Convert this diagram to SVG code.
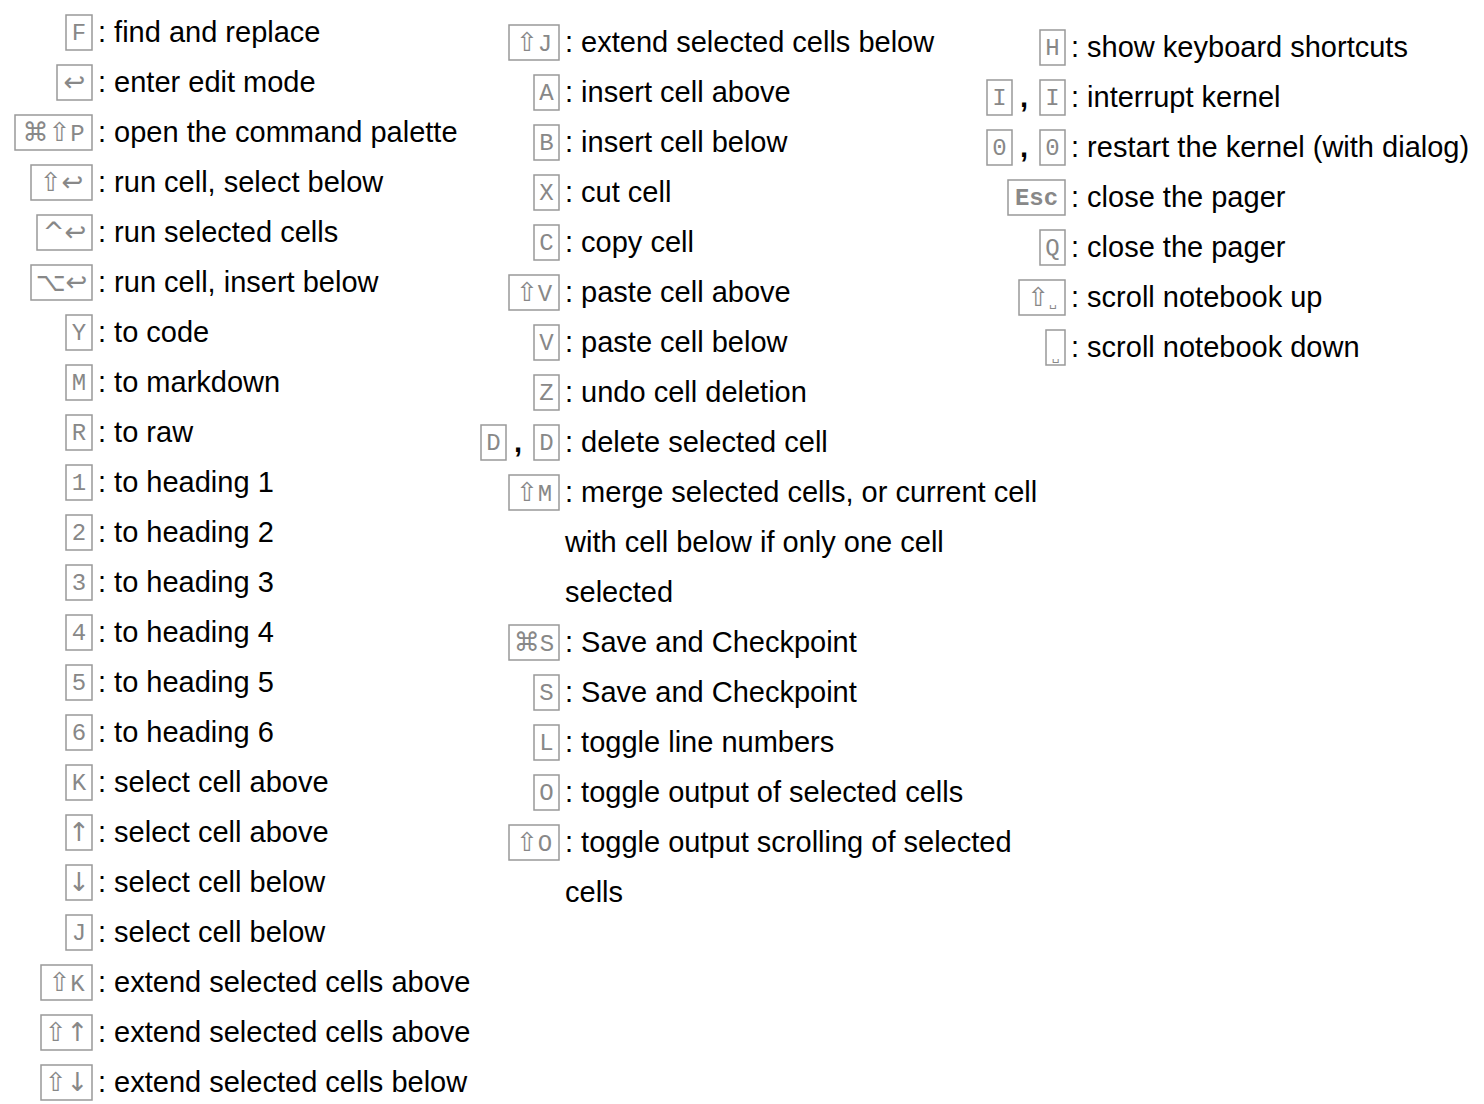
<svg xmlns="http://www.w3.org/2000/svg" width="1484" height="1104" viewBox="0 0 1484 1104">
<style>
.k{fill:#fff;stroke:#999;stroke-width:1.5}
.kt{font-family:"Liberation Mono","DejaVu Sans Mono",monospace;font-size:24px;fill:#888;text-anchor:middle}
.ks{font-family:"DejaVu Sans",sans-serif;font-size:26px;fill:#888;text-anchor:middle}
.m{font-family:"Liberation Mono","DejaVu Sans Mono",monospace;font-size:24px}
.t{font-family:"Liberation Sans",Arial,sans-serif;font-size:29px;fill:#000}
</style>
<rect width="1484" height="1104" fill="#fff"/>
<g id="col1">
<g id="r1"><rect class="k" x="66" y="15" width="26" height="35"/><text class="kt" x="79" y="40">F</text><text class="t" x="98" y="42">: find and replace</text></g>
<g id="r2"><rect class="k" x="57" y="65" width="35" height="35"/><text class="ks" x="74.5" y="91">↩</text><text class="t" x="98" y="92">: enter edit mode</text></g>
<g id="r3"><rect class="k" x="15" y="115" width="77" height="35"/><text class="ks" x="53.5" y="141">⌘⇧<tspan class="m">P</tspan></text><text class="t" x="98" y="142">: open the command palette</text></g>
<g id="r4"><rect class="k" x="31" y="165" width="61" height="35"/><text class="ks" x="61.5" y="191">⇧↩</text><text class="t" x="98" y="192">: run cell, select below</text></g>
<g id="r5"><rect class="k" x="37" y="215" width="55" height="35"/><text class="ks" x="64.5" y="241">^↩</text><text class="t" x="98" y="242">: run selected cells</text></g>
<g id="r6"><rect class="k" x="31" y="265" width="61" height="35"/><text class="ks" x="61.5" y="291">⌥↩</text><text class="t" x="98" y="292">: run cell, insert below</text></g>
<g id="r7"><rect class="k" x="66" y="315" width="26" height="35"/><text class="kt" x="79" y="340">Y</text><text class="t" x="98" y="342">: to code</text></g>
<g id="r8"><rect class="k" x="66" y="365" width="26" height="35"/><text class="kt" x="79" y="390">M</text><text class="t" x="98" y="392">: to markdown</text></g>
<g id="r9"><rect class="k" x="66" y="415" width="26" height="35"/><text class="kt" x="79" y="440">R</text><text class="t" x="98" y="442">: to raw</text></g>
<g id="r10"><rect class="k" x="66" y="465" width="26" height="35"/><text class="kt" x="79" y="490">1</text><text class="t" x="98" y="492">: to heading 1</text></g>
<g id="r11"><rect class="k" x="66" y="515" width="26" height="35"/><text class="kt" x="79" y="540">2</text><text class="t" x="98" y="542">: to heading 2</text></g>
<g id="r12"><rect class="k" x="66" y="565" width="26" height="35"/><text class="kt" x="79" y="590">3</text><text class="t" x="98" y="592">: to heading 3</text></g>
<g id="r13"><rect class="k" x="66" y="615" width="26" height="35"/><text class="kt" x="79" y="640">4</text><text class="t" x="98" y="642">: to heading 4</text></g>
<g id="r14"><rect class="k" x="66" y="665" width="26" height="35"/><text class="kt" x="79" y="690">5</text><text class="t" x="98" y="692">: to heading 5</text></g>
<g id="r15"><rect class="k" x="66" y="715" width="26" height="35"/><text class="kt" x="79" y="740">6</text><text class="t" x="98" y="742">: to heading 6</text></g>
<g id="r16"><rect class="k" x="66" y="765" width="26" height="35"/><text class="kt" x="79" y="790">K</text><text class="t" x="98" y="792">: select cell above</text></g>
<g id="r17"><rect class="k" x="66" y="815" width="26" height="35"/><text class="ks" x="79" y="841">↑</text><text class="t" x="98" y="842">: select cell above</text></g>
<g id="r18"><rect class="k" x="66" y="865" width="26" height="35"/><text class="ks" x="79" y="891">↓</text><text class="t" x="98" y="892">: select cell below</text></g>
<g id="r19"><rect class="k" x="66" y="915" width="26" height="35"/><text class="kt" x="79" y="940">J</text><text class="t" x="98" y="942">: select cell below</text></g>
<g id="r20"><rect class="k" x="41" y="965" width="51" height="35"/><text class="ks" x="66.5" y="991">⇧<tspan class="m">K</tspan></text><text class="t" x="98" y="992">: extend selected cells above</text></g>
<g id="r21"><rect class="k" x="41" y="1015" width="51" height="35"/><text class="ks" x="66.5" y="1041">⇧↑</text><text class="t" x="98" y="1042">: extend selected cells above</text></g>
<g id="r22"><rect class="k" x="41" y="1065" width="51" height="35"/><text class="ks" x="66.5" y="1091">⇧↓</text><text class="t" x="98" y="1092">: extend selected cells below</text></g>
</g>
<g id="col2">
<g id="s1"><rect class="k" x="509" y="25" width="50" height="35"/><text class="ks" x="534" y="51">⇧<tspan class="m">J</tspan></text><text class="t" x="565" y="52">: extend selected cells below</text></g>
<g id="s2"><rect class="k" x="534" y="75" width="25" height="35"/><text class="kt" x="546.5" y="100">A</text><text class="t" x="565" y="102">: insert cell above</text></g>
<g id="s3"><rect class="k" x="534" y="125" width="25" height="35"/><text class="kt" x="546.5" y="150">B</text><text class="t" x="565" y="152">: insert cell below</text></g>
<g id="s4"><rect class="k" x="534" y="175" width="25" height="35"/><text class="kt" x="546.5" y="200">X</text><text class="t" x="565" y="202">: cut cell</text></g>
<g id="s5"><rect class="k" x="534" y="225" width="25" height="35"/><text class="kt" x="546.5" y="250">C</text><text class="t" x="565" y="252">: copy cell</text></g>
<g id="s6"><rect class="k" x="509" y="275" width="50" height="35"/><text class="ks" x="534" y="301">⇧<tspan class="m">V</tspan></text><text class="t" x="565" y="302">: paste cell above</text></g>
<g id="s7"><rect class="k" x="534" y="325" width="25" height="35"/><text class="kt" x="546.5" y="350">V</text><text class="t" x="565" y="352">: paste cell below</text></g>
<g id="s8"><rect class="k" x="534" y="375" width="25" height="35"/><text class="kt" x="546.5" y="400">Z</text><text class="t" x="565" y="402">: undo cell deletion</text></g>
<g id="s9"><rect class="k" x="481" y="425" width="25" height="35"/><text class="kt" x="493.5" y="450">D</text><text class="t" x="514" y="452" style="font-weight:bold">,</text><rect class="k" x="534" y="425" width="25" height="35"/><text class="kt" x="546.5" y="450">D</text><text class="t" x="565" y="452">: delete selected cell</text></g>
<g id="s10"><rect class="k" x="509" y="475" width="50" height="35"/><text class="ks" x="534" y="501">⇧<tspan class="m">M</tspan></text><text class="t" x="565" y="502">: merge selected cells, or current cell</text><text class="t" x="565" y="552">with cell below if only one cell</text><text class="t" x="565" y="602">selected</text></g>
<g id="s11"><rect class="k" x="509" y="625" width="50" height="35"/><text class="ks" x="534" y="651">⌘<tspan class="m">S</tspan></text><text class="t" x="565" y="652">: Save and Checkpoint</text></g>
<g id="s12"><rect class="k" x="534" y="675" width="25" height="35"/><text class="kt" x="546.5" y="700">S</text><text class="t" x="565" y="702">: Save and Checkpoint</text></g>
<g id="s13"><rect class="k" x="534" y="725" width="25" height="35"/><text class="kt" x="546.5" y="750">L</text><text class="t" x="565" y="752">: toggle line numbers</text></g>
<g id="s14"><rect class="k" x="534" y="775" width="25" height="35"/><text class="kt" x="546.5" y="800">O</text><text class="t" x="565" y="802">: toggle output of selected cells</text></g>
<g id="s15"><rect class="k" x="509" y="825" width="50" height="35"/><text class="ks" x="534" y="851">⇧<tspan class="m">O</tspan></text><text class="t" x="565" y="852">: toggle output scrolling of selected</text><text class="t" x="565" y="902">cells</text></g>
</g>
<g id="col3">
<g id="u1"><rect class="k" x="1040" y="30" width="25" height="35"/><text class="kt" x="1052.5" y="55">H</text><text class="t" x="1071" y="57">: show keyboard shortcuts</text></g>
<g id="u2"><rect class="k" x="987" y="80" width="25" height="35"/><text class="kt" x="999.5" y="105">I</text><text class="t" x="1020" y="107" style="font-weight:bold">,</text><rect class="k" x="1040" y="80" width="25" height="35"/><text class="kt" x="1052.5" y="105">I</text><text class="t" x="1071" y="107">: interrupt kernel</text></g>
<g id="u3"><rect class="k" x="987" y="130" width="25" height="35"/><text class="kt" x="999.5" y="155">0</text><text class="t" x="1020" y="157" style="font-weight:bold">,</text><rect class="k" x="1040" y="130" width="25" height="35"/><text class="kt" x="1052.5" y="155">0</text><text class="t" x="1071" y="157">: restart the kernel (with dialog)</text></g>
<g id="u4"><rect class="k" x="1008" y="180" width="57" height="35"/><text class="kt" x="1036.5" y="205" style="font-weight:bold">Esc</text><text class="t" x="1071" y="207">: close the pager</text></g>
<g id="u5"><rect class="k" x="1040" y="230" width="25" height="35"/><text class="kt" x="1052.5" y="255">Q</text><text class="t" x="1071" y="257">: close the pager</text></g>
<g id="u6"><rect class="k" x="1019" y="280" width="46" height="35"/><text class="ks" x="1042" y="306">⇧<tspan style="font-size:12px">␣</tspan></text><text class="t" x="1071" y="307">: scroll notebook up</text></g>
<g id="u7"><rect class="k" x="1046" y="330" width="19" height="35"/><text class="ks" x="1055.5" y="360" style="font-size:12px">␣</text><text class="t" x="1071" y="357">: scroll notebook down</text></g>
</g>
<g id="connectors"/>
</svg>
